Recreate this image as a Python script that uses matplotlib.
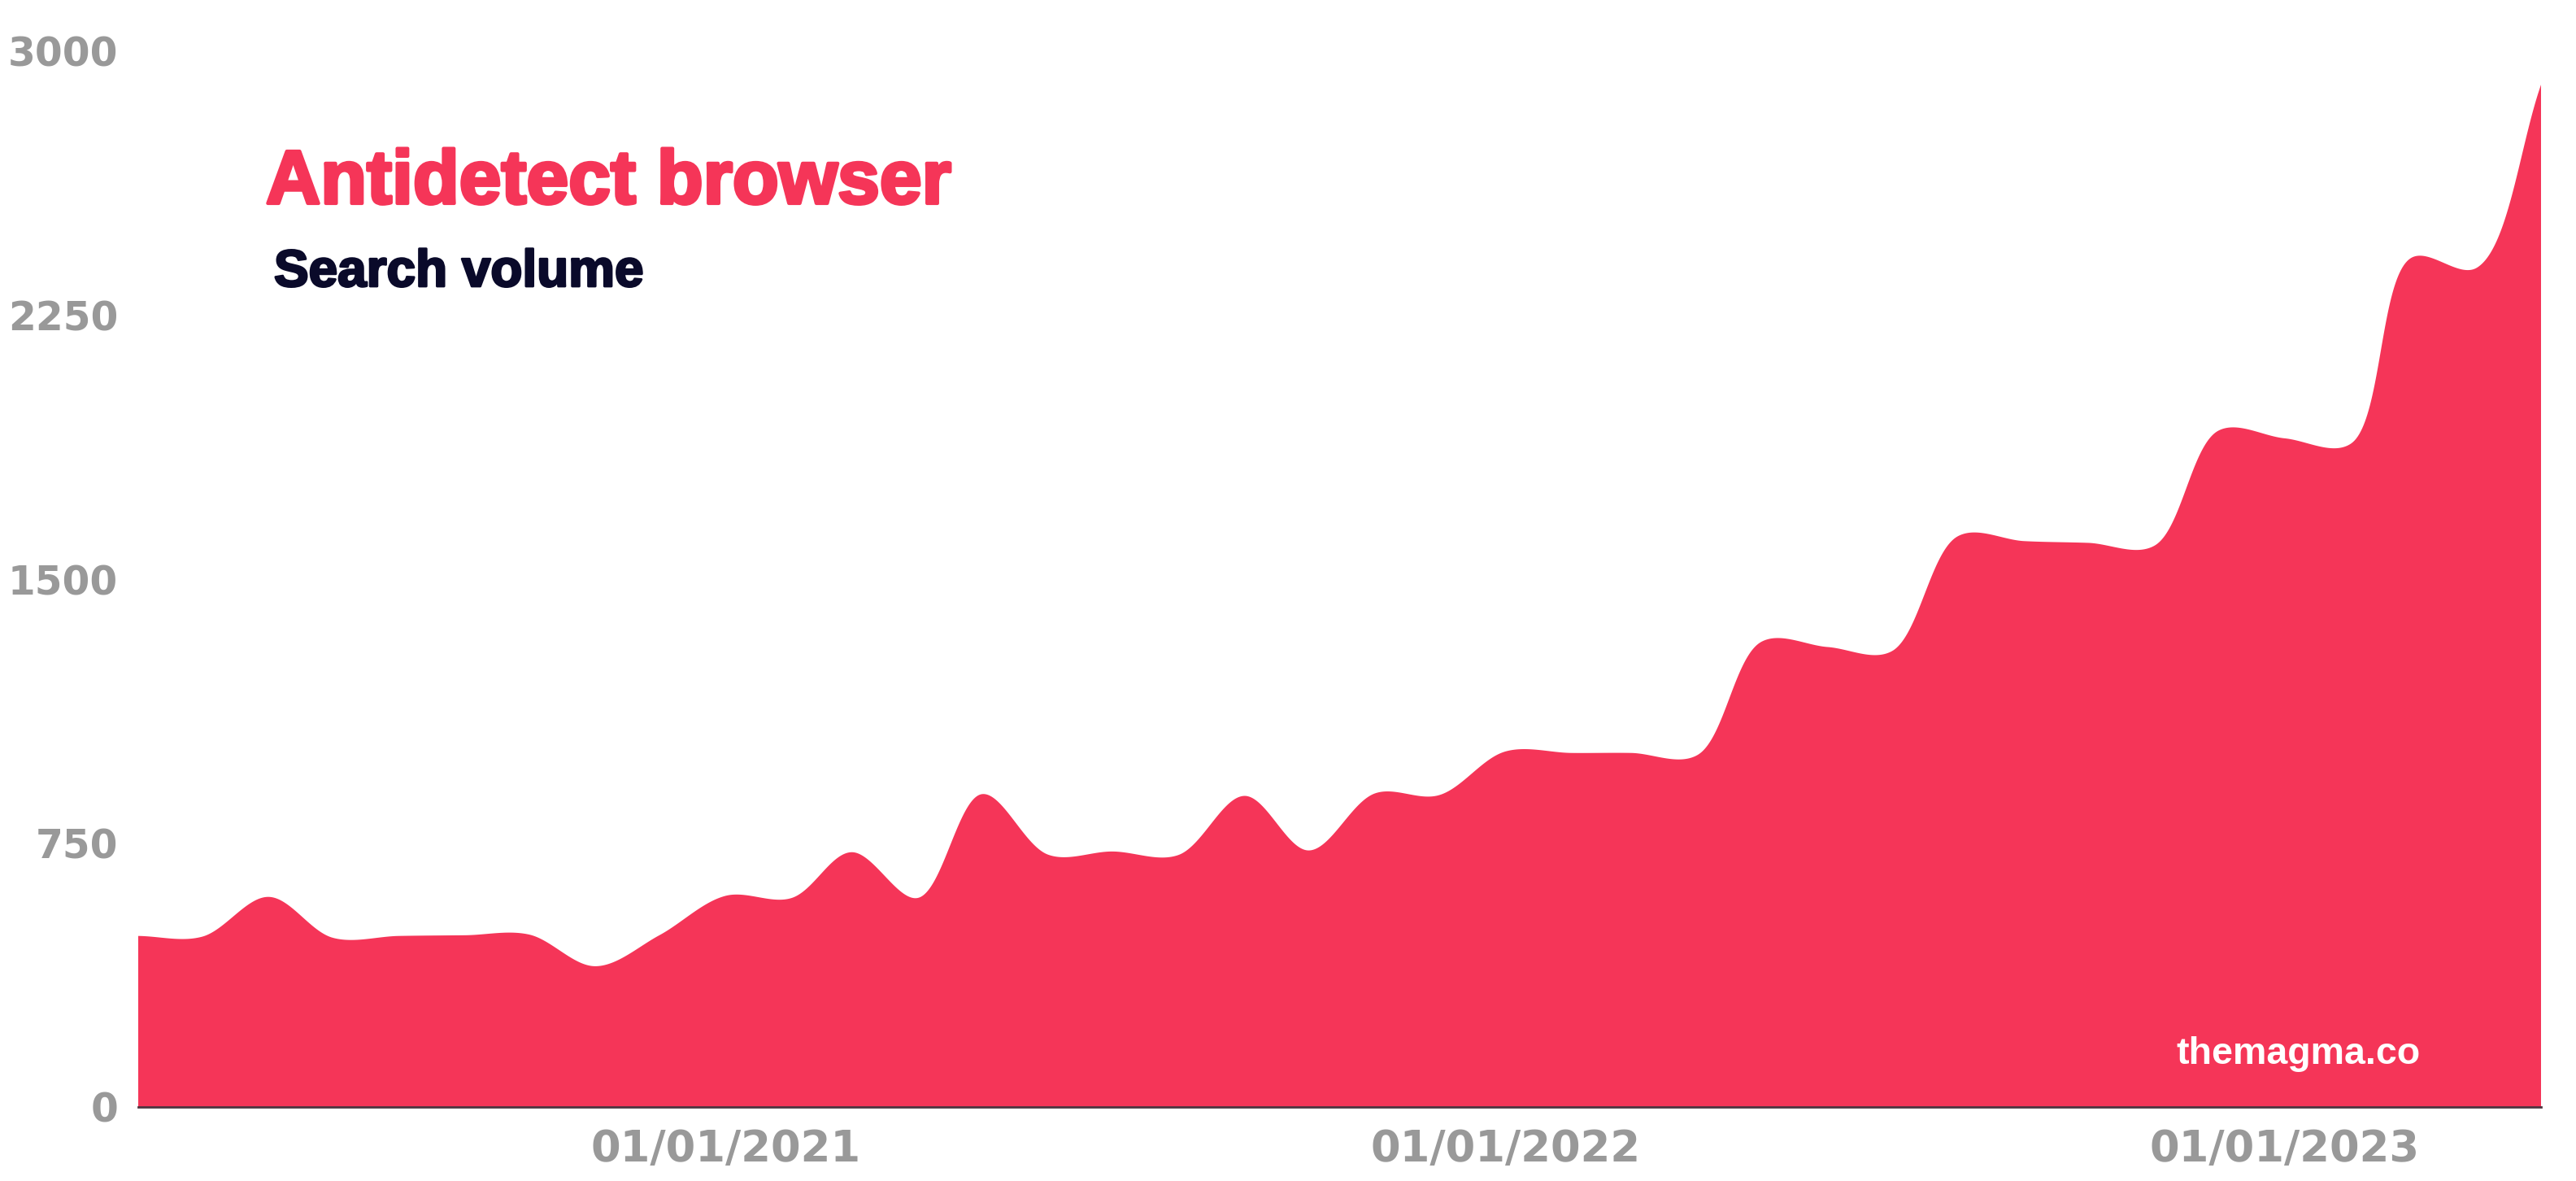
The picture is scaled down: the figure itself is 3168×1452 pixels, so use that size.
import numpy as np
import matplotlib
matplotlib.use("Agg")
import matplotlib.pyplot as plt
import matplotlib.dates as mdates
import matplotlib.patheffects as pe
from datetime import date

# monthly search volume, Apr 2020 .. May 2023
months = [date(2020 + (3 + i) // 12, (3 + i) % 12 + 1, 1) for i in range(38)]
volume = [486, 484, 597, 481, 486, 488, 490, 400, 488,
          600, 594, 724, 594, 889, 717, 726, 716, 884, 729, 891, 886,
          1010, 1006, 1006, 1000, 1322, 1307, 1295, 1622, 1608, 1603, 1595, 1922,
          1900, 1885, 2412, 2385, 2905]
year_ticks = [date(2021, 1, 1), date(2022, 1, 1), date(2023, 1, 1)]
y_ticks = [0, 750, 1500, 2250, 3000]

red = "#F53558"
grey = "#999999"

plt.rcParams['font.family'] = ['DejaVu Sans']

W, H = 3168, 1452
left, right, top, bottom = 170, 3125, 63, 1361
pw, ph = right - left, bottom - top


def catmull_rom(px, py, alpha=0.5, n=50):
    # centripetal catmull-rom through points given in pixel space
    P = np.column_stack([px, py]).astype(float)
    P = np.vstack([2 * P[0] - P[1], P, 2 * P[-1] - P[-2]])
    out = []
    for i in range(1, len(P) - 2):
        p0, p1, p2, p3 = P[i - 1], P[i], P[i + 1], P[i + 2]
        t0 = 0.0
        t1 = t0 + np.linalg.norm(p1 - p0) ** alpha
        t2 = t1 + np.linalg.norm(p2 - p1) ** alpha
        t3 = t2 + np.linalg.norm(p3 - p2) ** alpha
        t = np.linspace(t1, t2, n, endpoint=False)[:, None]
        a1 = (t1 - t) / (t1 - t0) * p0 + (t - t0) / (t1 - t0) * p1
        a2 = (t2 - t) / (t2 - t1) * p1 + (t - t1) / (t2 - t1) * p2
        a3 = (t3 - t) / (t3 - t2) * p2 + (t - t2) / (t3 - t2) * p3
        b1 = (t2 - t) / (t2 - t0) * a1 + (t - t0) / (t2 - t0) * a2
        b2 = (t3 - t) / (t3 - t1) * a2 + (t - t1) / (t3 - t1) * a3
        out.append((t2 - t) / (t2 - t1) * b1 + (t - t1) / (t2 - t1) * b2)
    out.append(P[-2][None, :])
    c = np.vstack(out)
    return c[:, 0], c[:, 1]


fig = plt.figure(figsize=(W / 100, H / 100), dpi=100)
ax = fig.add_axes([left / W, 1 - bottom / H, pw / W, ph / H])

xn = mdates.date2num(months)
x0, x1 = xn[0], xn[-1]
ymax = 3000
# smooth in screen space, then map back to data units
cx, cy = catmull_rom((xn - x0) / (x1 - x0) * pw, np.array(volume) / ymax * ph)
sx = x0 + cx / pw * (x1 - x0)
sy = cy / ph * ymax
ax.fill(np.concatenate([sx, [x1, x0]]), np.concatenate([sy, [0, 0]]),
        color=red, linewidth=0, zorder=1)

ax.set_xlim(x0, x1)
ax.set_ylim(0, ymax)
ax.set_xticks(mdates.date2num(year_ticks))
ax.set_xticklabels([d.strftime("%d/%m/%Y") for d in year_ticks])
ax.set_yticks(y_ticks)
ax.set_yticklabels([str(v) for v in y_ticks])
ax.tick_params(axis='x', length=0, pad=19, labelsize=38, labelcolor=grey)
ax.tick_params(axis='y', length=0, pad=18, labelsize=35, labelcolor=grey)
for lab in ax.get_xticklabels() + ax.get_yticklabels():
    lab.set_fontweight('bold')

for s in ['left', 'right', 'top']:
    ax.spines[s].set_visible(False)
ax.spines['bottom'].set_color('#4d3540')
ax.spines['bottom'].set_linewidth(2)
ax.spines['bottom'].set_zorder(3)

fig.text(327 / W, 1 - 250 / H, "Antidetect browser", color=red, fontsize=67,
         fontweight='bold', family=['Liberation Sans', 'DejaVu Sans'], va='baseline',
         path_effects=[pe.withStroke(linewidth=3, foreground=red)])
fig.text(337 / W, 1 - 352 / H, "Search volume", color="#0a0a2a", fontsize=46,
         fontweight='bold', family=['Liberation Sans', 'DejaVu Sans'], va='baseline',
         path_effects=[pe.withStroke(linewidth=2, foreground="#0a0a2a")])
fig.text(2977 / W, 1 - 1308 / H, "themagma.co", color="white", fontsize=33.5,
         fontweight='bold', family=['Liberation Sans', 'DejaVu Sans'], va='baseline',
         ha='right')

fig.savefig("out.png", dpi=100, facecolor='white')
